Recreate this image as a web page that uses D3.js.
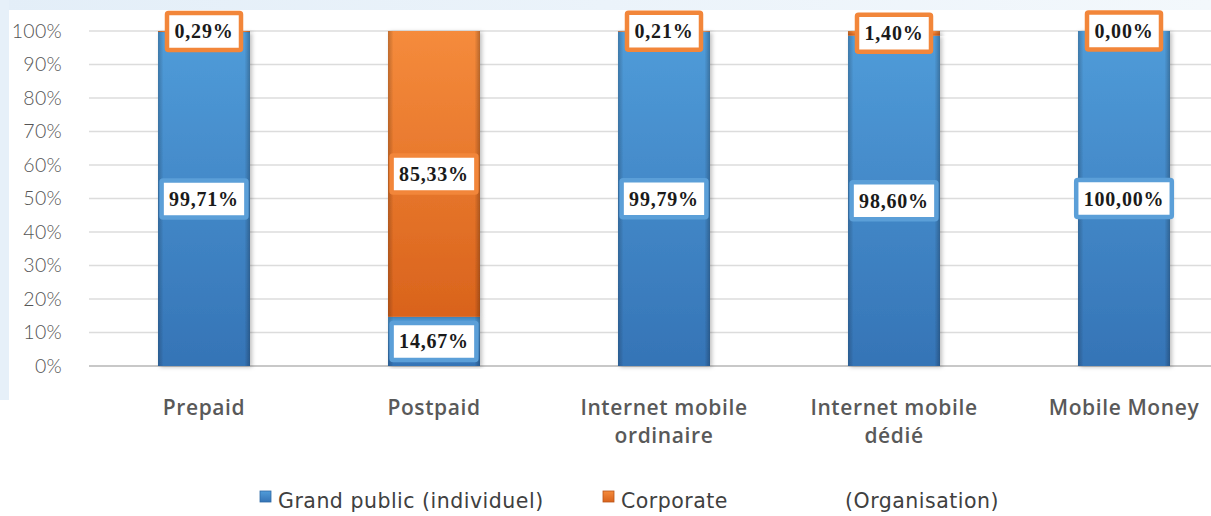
<!DOCTYPE html>
<html>
<head>
<meta charset="utf-8">
<script src="https://cdn.jsdelivr.net/npm/d3@7"></script>
<style>
  body { margin: 0; background: #fff; }
  svg { display: block; }
</style>
</head>
<body>
<div id="chart"></div>
<script>
// chart values
const categories = [["Prepaid"], ["Postpaid"], ["Internet mobile", "ordinaire"], ["Internet mobile", "dédié"], ["Mobile Money"]];
const grandPublic = [99.71, 14.67, 99.79, 98.60, 100.00];
const corporate = [0.29, 85.33, 0.21, 1.40, 0.00];
const yTicks = [0, 10, 20, 30, 40, 50, 60, 70, 80, 90, 100];
const seriesNames = ["Grand public (individuel)", "Corporate"];
const seriesNote = "(Organisation)";

const width = 1211, height = 516;
const margin = {top: 31, left: 89, bottom: 150};

const svg = d3.select("#chart").append("svg")
    .attr("width", width)
    .attr("height", height);

const defs = svg.append("defs");

// bar gradients: light top, darker bottom, darker edges
function barGradient(id, top, bottom) {
  const g = defs.append("linearGradient").attr("id", id)
      .attr("x1", 0).attr("y1", 0).attr("x2", 0).attr("y2", 1);
  g.append("stop").attr("offset", "0%").attr("stop-color", top);
  g.append("stop").attr("offset", "100%").attr("stop-color", bottom);
}
barGradient("gBlue", "#509cd9", "#3574b6");
barGradient("gOrange", "#f58b3c", "#d9631c");

const edge = defs.append("linearGradient").attr("id", "gEdge")
    .attr("x1", 0).attr("y1", 0).attr("x2", 1).attr("y2", 0);
edge.append("stop").attr("offset", "0%").attr("stop-color", "#000").attr("stop-opacity", 0.22);
edge.append("stop").attr("offset", "6%").attr("stop-color", "#000").attr("stop-opacity", 0);
edge.append("stop").attr("offset", "94%").attr("stop-color", "#000").attr("stop-opacity", 0);
edge.append("stop").attr("offset", "100%").attr("stop-color", "#000").attr("stop-opacity", 0.25);

const shadow = defs.append("filter").attr("id", "shadow")
    .attr("x", "-20%").attr("y", "-5%").attr("width", "140%").attr("height", "110%");
shadow.append("feDropShadow").attr("dx", 2).attr("dy", 1).attr("stdDeviation", 2)
    .attr("flood-color", "#000").attr("flood-opacity", 0.25);

// faint slide background round the chart area
const bg = defs.append("linearGradient").attr("id", "gBg")
    .attr("x1", 0).attr("y1", 0).attr("x2", 1).attr("y2", 0);
bg.append("stop").attr("offset", "0%").attr("stop-color", "#e3eef8");
bg.append("stop").attr("offset", "100%").attr("stop-color", "#f3f8fc");
svg.append("rect").attr("x", 0).attr("y", 0).attr("width", width).attr("height", 10).attr("fill", "url(#gBg)");
svg.append("rect").attr("x", 0).attr("y", 0).attr("width", 9).attr("height", 400).attr("fill", "#e6f0f9");

// scales
const x = d3.scaleBand()
    .domain(d3.range(categories.length))
    .range([margin.left, margin.left + 1150])
    .paddingInner(0.6)
    .paddingOuter(0.3);

const y = d3.scaleLinear()
    .domain([0, 100])
    .range([height - margin.bottom, margin.top]);

// grid lines
svg.append("g")
  .selectAll("line")
  .data(yTicks)
  .join("line")
    .attr("x1", margin.left)
    .attr("x2", width)
    .attr("y1", d => y(d))
    .attr("y2", d => y(d))
    .attr("stroke", d => d === 0 ? "#c8c8c8" : "#dcdcdc")
    .attr("stroke-width", d => d === 0 ? 2 : 1.5);

// y axis labels
const yAxis = svg.append("g")
    .attr("transform", `translate(${margin.left},0)`)
    .call(d3.axisLeft(y).tickValues(yTicks).tickFormat(d => d + "%").tickSize(0).tickPadding(27));
yAxis.select(".domain").remove();
yAxis.selectAll("text")
    .attr("font-family", "Lato, sans-serif")
    .attr("font-weight", 300)
    .attr("font-size", 19.5)
    .attr("letter-spacing", 0.3)
    .attr("fill", "#555");

// stacked bars
const stacked = categories.map((c, i) => [
  {key: 0, v: grandPublic[i], y0: 0, y1: grandPublic[i], i},
  {key: 1, v: corporate[i], y0: grandPublic[i], y1: grandPublic[i] + corporate[i], i}
]);

const bars = svg.append("g");
stacked.forEach(segs => {
  segs.forEach(s => {
    if (s.v <= 0) return;
    const g = bars.append("g").attr("filter", "url(#shadow)");
    g.append("rect")
      .attr("x", x(s.i))
      .attr("y", y(s.y1))
      .attr("width", x.bandwidth())
      .attr("height", y(s.y0) - y(s.y1))
      .attr("fill", s.key === 0 ? "url(#gBlue)" : "url(#gOrange)");
    g.append("rect")
      .attr("x", x(s.i))
      .attr("y", y(s.y1))
      .attr("width", x.bandwidth())
      .attr("height", y(s.y0) - y(s.y1))
      .attr("fill", "url(#gEdge)");
  });
});

// value labels in bordered boxes
const fmt = v => v.toFixed(2).replace(".", ",") + "%";
const labels = svg.append("g");
stacked.forEach(segs => {
  segs.forEach(s => {
    const cx = x(s.i) + x.bandwidth() / 2;
    const cy = y((s.y0 + s.y1) / 2);
    const g = labels.append("g").attr("transform", `translate(${cx},${cy})`);
    const rect = g.append("rect");
    const t = g.append("text")
      .attr("text-anchor", "middle")
      .attr("dy", "0.35em")
      .attr("font-family", "'Liberation Serif', serif")
      .attr("font-weight", "bold")
      .attr("font-size", 20)
      .attr("letter-spacing", 0.8)
      .attr("fill", "#1a1a1a")
      .text(fmt(s.v));
    const w = t.node().getComputedTextLength() + 15;
    const h = 37;
    rect.attr("x", -w / 2).attr("y", -h / 2).attr("width", w).attr("height", h)
      .attr("rx", 1.5)
      .attr("fill", "#fff")
      .attr("stroke", s.key === 0 ? "#5b9fd8" : "#f2863a")
      .attr("stroke-width", 4.5);
  });
});

// category labels
const xl = svg.append("g");
categories.forEach((lines, i) => {
  const t = xl.append("text")
    .attr("x", x(i) + x.bandwidth() / 2)
    .attr("y", 415)
    .attr("text-anchor", "middle")
    .attr("font-family", "'Open Sans', sans-serif")
    .attr("font-weight", 600)
    .attr("font-size", 21)
    .attr("letter-spacing", 0.6)
    .attr("fill", "#595959");
  lines.forEach((l, k) => {
    t.append("tspan").attr("x", x(i) + x.bandwidth() / 2).attr("dy", k === 0 ? 0 : 28).text(l);
  });
});

// legend
const legend = svg.append("g")
    .attr("font-family", "'DejaVu Sans', sans-serif")
    .attr("font-size", 20.5)
    .attr("letter-spacing", 0.5)
    .attr("fill", "#404040");
const legendX = [260, 603];
seriesNames.forEach((name, k) => {
  legend.append("rect")
    .attr("x", legendX[k]).attr("y", 491).attr("width", 11).attr("height", 11)
    .attr("fill", k === 0 ? "url(#gBlue)" : "url(#gOrange)")
    .attr("stroke", k === 0 ? "#2f6aa5" : "#b9551a").attr("stroke-width", 0.8);
  const t = legend.append("text").attr("x", legendX[k] + 18).attr("y", 508).text(name);
  if (k === 1) t.append("tspan").attr("x", 838).text(" " + seriesNote);
});
</script>
</body>
</html>
